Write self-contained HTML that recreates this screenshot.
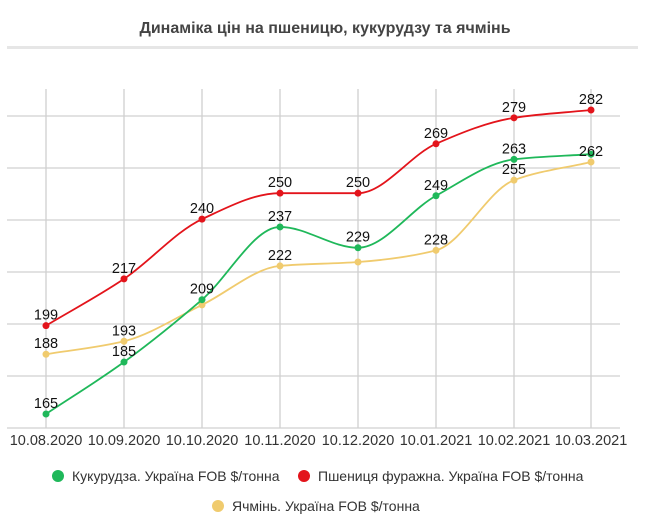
<!DOCTYPE html>
<html><head><meta charset="utf-8"><style>
body{margin:0;background:#fff;width:650px;height:523px;overflow:hidden;font-family:"Liberation Sans",sans-serif}
</style></head><body>
<svg id="s" width="650" height="523" xmlns="http://www.w3.org/2000/svg" font-family="Liberation Sans, sans-serif">
<text x="325" y="33" text-anchor="middle" font-size="16" font-weight="bold" fill="#444">Динаміка цін на пшеницю, кукурудзу та ячмінь</text>
<rect x="7" y="46" width="631" height="3" fill="#e6e6e6"/>
<g id="grid" stroke="#d0d0d0" stroke-width="1.3"></g>
<g id="series"></g>
<g font-size="14.5" fill="#333" text-anchor="middle" id="xl"></g>
<circle cx="58" cy="476" r="6" fill="#1fb85a"/>
<text x="72" y="481" font-size="14" fill="#333">Кукурудза. Україна FOB $/тонна</text>
<circle cx="304" cy="476" r="6" fill="#e3141b"/>
<text x="318" y="481" font-size="14" fill="#333">Пшениця фуражна. Україна FOB $/тонна</text>
<circle cx="218" cy="506" r="6" fill="#f0cb6e"/>
<text x="232" y="511" font-size="14" fill="#333">Ячмінь. Україна FOB $/тонна</text>
</svg>
<script>
var NS="http://www.w3.org/2000/svg";
function el(p,t,a,txt){var e=document.createElementNS(NS,t);for(var k in a)e.setAttribute(k,a[k]);if(txt)e.textContent=txt;p.appendChild(e);return e;}
var xs=[46,124,202,280,358,436,514,591];
function Y(v){return 414-(v-165)*2.598;}
var g=document.getElementById('grid');
for(var i=0;i<xs.length;i++)el(g,'line',{x1:xs[i],x2:xs[i],y1:89,y2:428});
[116,168,220,272,324,376,428].forEach(function(y){el(g,'line',{x1:7,x2:620,y1:y,y2:y});});
var dates=["10.08.2020","10.09.2020","10.10.2020","10.11.2020","10.12.2020","10.01.2021","10.02.2021","10.03.2021"];
var xl=document.getElementById('xl');
dates.forEach(function(d,i){el(xl,'text',{x:xs[i],y:445},d);});
function path(pts){
 var n=pts.length,d=[],m=[];
 for(var i=0;i<n-1;i++)d.push((pts[i+1][1]-pts[i][1])/(pts[i+1][0]-pts[i][0]));
 m[0]=d[0];m[n-1]=d[n-2];
 for(var i=1;i<n-1;i++)m[i]=(d[i-1]*d[i]<=0)?0:2/(1/d[i-1]+1/d[i]);
 var s="M"+pts[0][0]+","+pts[0][1];
 for(var i=0;i<n-1;i++){var h=(pts[i+1][0]-pts[i][0])/3;
  s+=" C"+(pts[i][0]+h)+","+(pts[i][1]+m[i]*h)+" "+(pts[i+1][0]-h)+","+(pts[i+1][1]-m[i+1]*h)+" "+pts[i+1][0]+","+pts[i+1][1];}
 return s;}
var S=document.getElementById('series');
var data=[
 {c:"#f0cb6e",v:[188,193,207,222,223.5,228,255,262],l:[188,193,null,222,null,228,255,262]},
 {c:"#1fb85a",v:[165,185,209,237,229,249,263,265],l:[165,185,209,237,229,249,263,null]},
 {c:"#e3141b",v:[199,217,240,250,250,269,279,282],l:[199,217,240,250,250,269,279,282]}
];
data.forEach(function(sr){
 var pts=sr.v.map(function(v,i){return [xs[i],Y(v)];});
 el(S,'path',{d:path(pts),fill:'none',stroke:sr.c,'stroke-width':1.8});
 pts.forEach(function(p){el(S,'circle',{cx:p[0],cy:p[1],r:3.5,fill:sr.c});});
});
data.forEach(function(sr){
 sr.v.forEach(function(v,i){if(sr.l[i]==null)return;
  el(S,'text',{x:xs[i],y:Y(v)-6,'text-anchor':'middle','font-size':14.5,fill:'#111'},String(sr.l[i]));});
});
</script>
</body></html>
